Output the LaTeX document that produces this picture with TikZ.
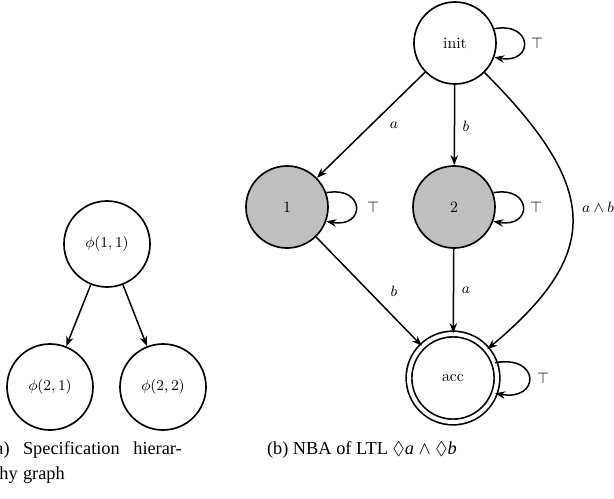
\documentclass[tikz,border=0pt]{standalone}
\usepackage{amssymb}
\usepackage{fontspec}
\newfontfamily\capfont{Liberation Serif}
\usetikzlibrary{arrows.meta}
\begin{document}
\begin{tikzpicture}[x=0.6pt,y=0.6pt,
  every node/.style={font=\fontsize{9.5}{11}\selectfont},
  st/.style={circle,draw,line width=1pt,inner sep=0pt,minimum size=49.2pt},
  hst/.style={st,minimum size=51.6pt},
  gst/.style={st,fill=black!25},
  acst/.style={st,double,double distance=2.4pt,minimum size=52.8pt},
  arr/.style={-{Stealth[length=6pt,width=4.5pt]},line width=0.9pt},
  lbl/.style={inner sep=0pt},
  captext/.style={font=\fontsize{11}{13}\selectfont\capfont,inner sep=0pt}]
\useasboundingbox (0,0) rectangle (614,-498);

% (a) hierarchy graph
\node[hst] (p11) at (107,-244) {$\phi(1,1)$};
\node[hst] (p21) at (50,-387) {$\phi(2,1)$};
\node[hst] (p22) at (163,-387) {$\phi(2,2)$};
\draw[arr] (p11) -- (p21);
\draw[arr] (p11) -- (p22);

% (b) NBA
\node[st] (init) at (455,-43) {init};
\node[gst] (n1) at (287,-207) {1};
\node[gst] (n2) at (454,-207) {2};
\node[acst] (acc) at (453,-378) {acc};

\draw[arr] (init) -- (n1);
\draw[arr] (init) -- (n2);
\draw[arr] (init.-45) .. controls +(-45:167) and +(40:147) .. (acc.40);
\draw[arr] (n1) -- (acc);
\draw[arr] (n2) -- (acc);

\draw[arr] (init.20) .. controls +(10:40) and +(-10:40) .. (init.-20);
\draw[arr] (n1.20) .. controls +(10:40) and +(-10:40) .. (n1.-20);
\draw[arr] (n2.20) .. controls +(10:40) and +(-10:40) .. (n2.-20);
\draw[arr] (acc.20) .. controls +(10:46) and +(-10:46) .. (acc.-20);

\node[lbl] (la1) at (394,-125) {$a$};
\node[lbl] (lb2) at (466,-126) {$b$};
\node[lbl] (lab) at (598,-207) {$a\wedge b$};
\node[lbl] (lb1) at (394,-291) {$b$};
\node[lbl] (la2) at (466,-290) {$a$};
\node[lbl] (t0) at (537,-43) {$\top$};
\node[lbl] (t1) at (373,-207) {$\top$};
\node[lbl] (t2) at (536,-207) {$\top$};
\node[lbl] (t3) at (543,-378) {$\top$};

% captions
\node[captext,anchor=base east] (ca1) at (10,-454) {(a)};
\node[captext,anchor=base west] (ca2) at (22.7,-454) {Specification};
\node[captext,anchor=base west] (ca3) at (133,-454) {hierar-};
\node[captext,anchor=base east] (ca4) at (18,-479) {chy};
\node[captext,anchor=base west] (ca5) at (22.7,-479) {graph};
\node[captext,anchor=base west] (cb) at (266.7,-454) {(b) NBA of LTL $\Diamond$\textit{a} $\wedge$ $\Diamond$\textit{b}};
\end{tikzpicture}
\end{document}
